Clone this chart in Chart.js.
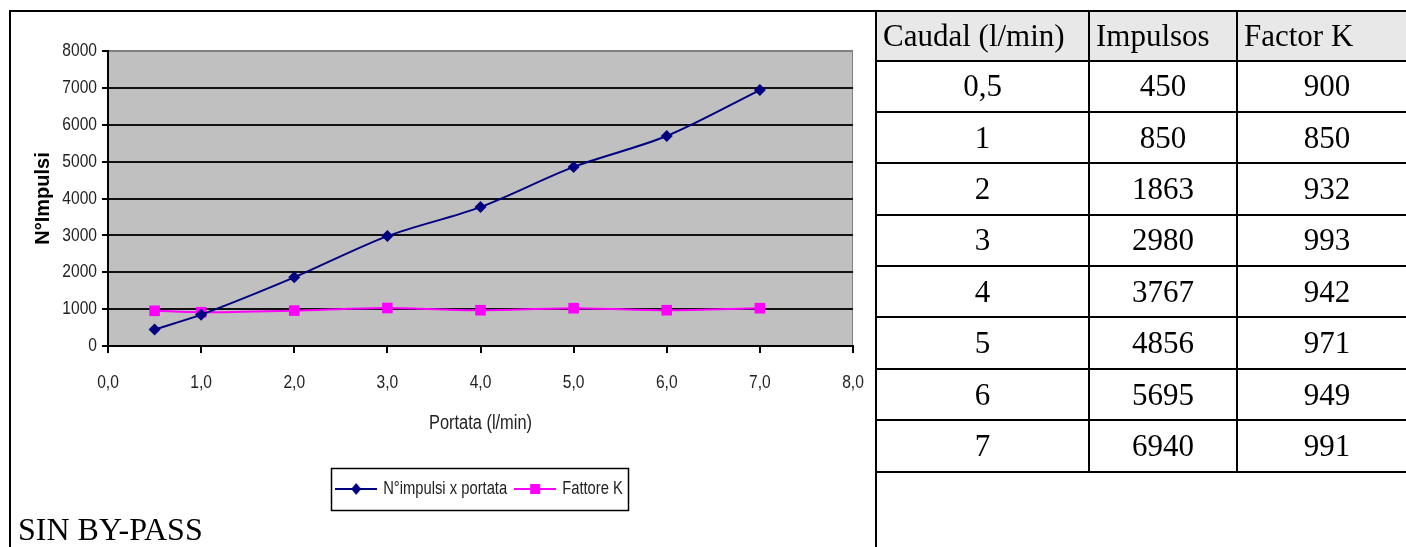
<!DOCTYPE html>
<html lang="it">
<head>
  <meta charset="UTF-8">
  <title>N°Impulsi x portata - SIN BY-PASS</title>
  <script src="https://cdn.jsdelivr.net/npm/chart.js"></script>
  <style>
    body {
      margin: 0;
      width: 1406px;
      height: 547px;
      overflow: hidden;
      position: relative;
      background: #fff;
      font-family: 'Liberation Serif', 'Times New Roman', serif;
      color: #000;
    }
    #chartWrap {
      position: absolute;
      left: 0;
      top: 0;
      width: 875px;
      height: 547px;
    }
    .frame {
      position: absolute;
      left: 9px;
      top: 10px;
      width: 868px;
      height: 537px;
      border-left: 2px solid #000;
      border-top: 2px solid #000;
      border-right: 2px solid #000;
      box-sizing: border-box;
      pointer-events: none;
    }
    .note {
      position: absolute;
      left: 18px;
      top: 513px;
      font-size: 32px;
      line-height: 32px;
    }
    table {
      position: absolute;
      left: 875px;
      top: 10px;
      border-collapse: collapse;
      table-layout: fixed;
      width: 541px;
      font-size: 31px;
    }
    td, th {
      border: 2px solid #000;
      padding: 0 6px;
      height: 49.4px;
      font-weight: normal;
      white-space: nowrap;
    }
    th { text-align: left; background: #e8e8e8; height: 47.5px; }
    td { text-align: center; }
  </style>
</head>
<body>
  <div id="chartWrap"><canvas id="chart" width="875" height="547"></canvas></div>
  <div class="frame"></div>
  <div class="note">SIN BY-PASS</div>
  <table id="tbl">
    <colgroup><col style="width:213px"><col style="width:148px"><col style="width:180px"></colgroup>
    <thead><tr><th>Caudal (l/min)</th><th>Impulsos</th><th>Factor K</th></tr></thead>
    <tbody></tbody>
  </table>

  <script>
    // chart data
    const portata = [0.5, 1, 2, 3, 4, 5, 6, 7];
    const impulsi = [450, 850, 1863, 2980, 3767, 4856, 5695, 6940];
    const fattoreK = [955, 915, 960, 1030, 970, 1025, 970, 1025];
    const xTickLabels = ['0,0', '1,0', '2,0', '3,0', '4,0', '5,0', '6,0', '7,0', '8,0'];

    // table data
    const caudal = ['0,5', '1', '2', '3', '4', '5', '6', '7'];
    const impulsos = [450, 850, 1863, 2980, 3767, 4856, 5695, 6940];
    const factorK = [900, 850, 932, 993, 942, 971, 949, 991];

    const tbody = document.querySelector('#tbl tbody');
    caudal.forEach((c, i) => {
      const tr = document.createElement('tr');
      [c, impulsos[i], factorK[i]].forEach(v => {
        const td = document.createElement('td');
        td.textContent = v;
        tr.appendChild(td);
      });
      tbody.appendChild(tr);
    });

    // no Arial Narrow here: squeeze the "Narrow" texts horizontally instead
    const narrow = "'Liberation Sans Narrow', 'Liberation Sans', Arial, sans-serif";
    const squeeze = 0.82;
    const canvas = document.getElementById('chart');
    const c2d = canvas.getContext('2d');
    const origFill = c2d.fillText;
    const origMeasure = c2d.measureText;
    c2d.fillText = function (text, x, y, maxWidth) {
      if (this.font.indexOf('Narrow') < 0) return origFill.call(this, text, x, y, maxWidth);
      this.save();
      this.translate(x, y);
      this.scale(squeeze, 1);
      origFill.call(this, text, 0, 0);
      this.restore();
    };
    c2d.measureText = function (text) {
      const m = origMeasure.call(this, text);
      if (this.font.indexOf('Narrow') < 0) return m;
      return { width: m.width * squeeze, actualBoundingBoxAscent: m.actualBoundingBoxAscent, actualBoundingBoxDescent: m.actualBoundingBoxDescent };
    };

    const blue = '#000080';
    const pink = '#ff00ff';

    function legendSymbol(color, shape) {
      const c = document.createElement('canvas');
      c.width = 42;
      c.height = 14;
      const g = c.getContext('2d');
      g.strokeStyle = color;
      g.lineWidth = 2;
      g.beginPath();
      g.moveTo(0, 7);
      g.lineTo(42, 7);
      g.stroke();
      g.fillStyle = color;
      if (shape === 'diamond') {
        g.beginPath();
        g.moveTo(21, 1); g.lineTo(26, 7); g.lineTo(21, 13); g.lineTo(16, 7);
        g.closePath();
        g.fill();
      } else {
        g.fillRect(16, 2, 10, 10);
      }
      return c;
    }
    const symbols = [legendSymbol(blue, 'diamond'), legendSymbol(pink, 'square')];

    const plotBg = {
      id: 'plotBg',
      beforeDraw(chart) {
        const { ctx, chartArea: a } = chart;
        ctx.save();
        ctx.fillStyle = '#c0c0c0';
        ctx.fillRect(a.left, a.top, a.right - a.left, a.bottom - a.top);
        ctx.strokeStyle = '#808080';
        ctx.lineWidth = 1;
        ctx.strokeRect(a.left + 0.5, a.top + 0.5, a.right - a.left - 1, a.bottom - a.top - 1);
        ctx.restore();
      }
    };

    const legendFrame = {
      id: 'legendFrame',
      afterDraw(chart) {
        const boxes = chart.legend.legendHitBoxes;
        if (!boxes || !boxes.length) return;
        let l = Infinity, r = -Infinity, t = Infinity, b = -Infinity;
        boxes.forEach(h => {
          l = Math.min(l, h.left);
          r = Math.max(r, h.left + h.width);
          t = Math.min(t, h.top);
          b = Math.max(b, h.top + h.height);
        });
        const ctx = chart.ctx;
        ctx.save();
        ctx.strokeStyle = '#000';
        ctx.lineWidth = 1.5;
        ctx.strokeRect(Math.round(l - 7) + 0.5, Math.round(t - 12) + 0.5, Math.round(r - l + 12), Math.round(b - t + 24));
        ctx.restore();
      }
    };

    new Chart(canvas, {
      type: 'line',
      data: {
        datasets: [{
          label: 'N°impulsi x portata',
          data: portata.map((x, i) => ({ x: x, y: impulsi[i] })),
          borderColor: blue,
          backgroundColor: blue,
          borderWidth: 2,
          pointStyle: 'rectRot',
          pointRadius: 6,
          pointBorderWidth: 0,
          tension: 0.3
        }, {
          label: 'Fattore K',
          data: portata.map((x, i) => ({ x: x, y: fattoreK[i] })),
          borderColor: pink,
          backgroundColor: pink,
          borderWidth: 2,
          pointStyle: 'rect',
          pointRadius: 7.5,
          pointBorderWidth: 0,
          tension: 0.3
        }]
      },
      options: {
        responsive: false,
        animation: false,
        layout: { padding: { left: 10, right: 22, top: 51, bottom: 39 } },
        plugins: {
          tooltip: { enabled: false },
          legend: {
            position: 'bottom',
            fullSize: false,
            labels: {
              usePointStyle: true,
              pointStyleWidth: 36,
              padding: 10,
              color: '#222',
              font: { family: narrow, size: 18 },
              generateLabels(chart) {
                const items = Chart.defaults.plugins.legend.labels.generateLabels(chart);
                items.forEach((it, i) => { it.pointStyle = symbols[i]; });
                return items;
              }
            }
          }
        },
        scales: {
          x: {
            type: 'linear',
            min: 0,
            max: 8,
            ticks: {
              stepSize: 1,
              color: '#222',
              padding: 18,
              maxRotation: 0,
              font: { family: narrow, size: 19 },
              callback: (v, i) => xTickLabels[i]
            },
            grid: { drawOnChartArea: false, tickLength: 7, tickColor: '#000', lineWidth: 2 },
            border: { color: '#000', width: 2 },
            title: {
              display: true,
              text: 'Portata (l/min)',
              color: '#222',
              font: { family: narrow, size: 20 },
              padding: { top: 0, bottom: 35 }
            },
            afterFit(s) {
              s.height = 124;
              s.paddingLeft = 0;
              s.paddingRight = 0;
            }
          },
          y: {
            min: 0,
            max: 8000,
            ticks: {
              stepSize: 1000,
              color: '#222',
              padding: 5,
              font: { family: narrow, size: 19 },
              callback: v => String(v)
            },
            grid: {
              color: c => c.tick && c.tick.value === 8000 ? '#808080' : '#111',
              lineWidth: 2,
              tickLength: 6,
              tickColor: '#000'
            },
            border: { color: '#000', width: 2 },
            title: {
              display: true,
              text: 'N°Impulsi',
              color: '#000',
              font: { family: "'Liberation Sans', Arial, sans-serif", size: 20, weight: 'bold' },
              padding: { top: 21, bottom: 0 }
            },
            afterFit(s) { s.width = 98; }
          }
        }
      },
      plugins: [plotBg, legendFrame]
    });
  </script>
</body>
</html>
